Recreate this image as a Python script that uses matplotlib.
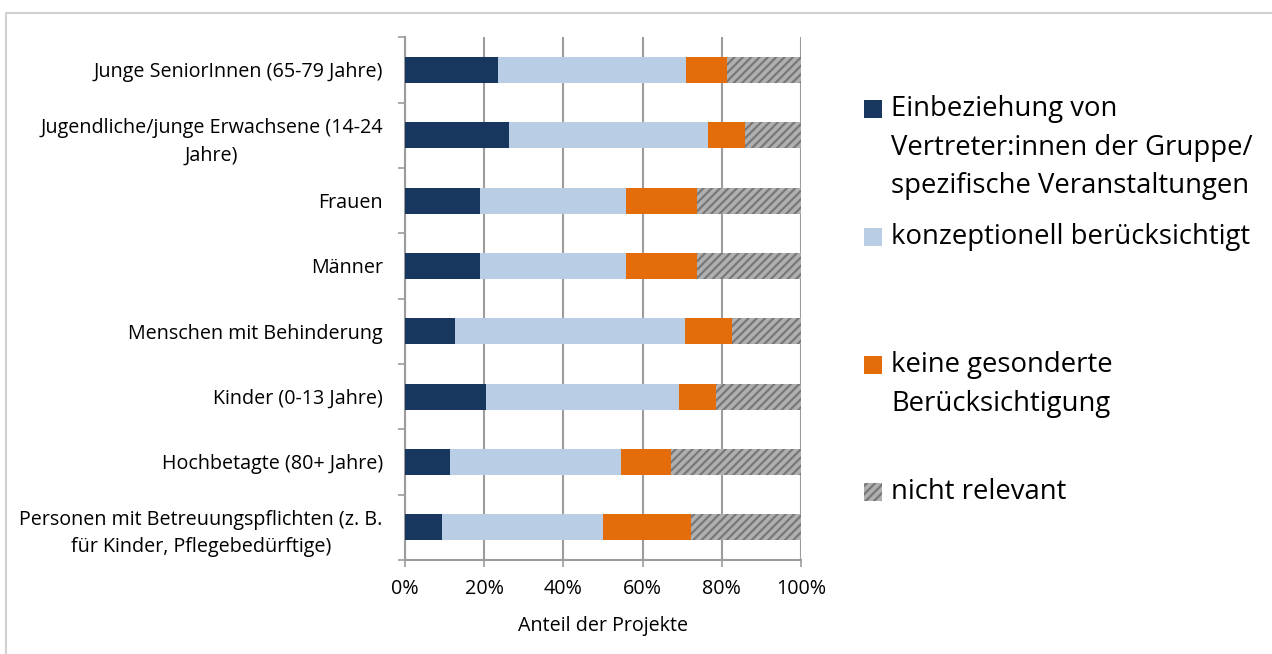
import matplotlib
matplotlib.use("Agg")
import matplotlib.pyplot as plt
from matplotlib.patches import Rectangle
from matplotlib.lines import Line2D
import numpy as np

plt.rcParams['font.family'] = ['Open Sans', 'DejaVu Sans']
plt.rcParams['hatch.linewidth'] = 1.6

categories = [
    "Junge SeniorInnen (65-79 Jahre)",
    "Jugendliche/junge Erwachsene (14-24\nJahre)",
    "Frauen",
    "Männer",
    "Menschen mit Behinderung",
    "Kinder (0-13 Jahre)",
    "Hochbetagte (80+ Jahre)",
    "Personen mit Betreuungspflichten (z. B.\nfür Kinder, Pflegebedürftige)",
]
einbeziehung = [23.4, 26.2, 18.9, 18.9, 12.5, 20.5, 11.4, 9.3]
konzeptionell = [47.6, 50.2, 36.9, 36.9, 58.3, 48.7, 43.2, 40.7]
keine = [10.4, 9.5, 17.9, 17.9, 11.7, 9.4, 12.5, 22.1]
nicht_relevant = [18.6, 14.1, 26.3, 26.3, 17.5, 21.4, 32.9, 27.9]

series_labels = [
    "Einbeziehung von\nVertreter:innen der Gruppe/\nspezifische Veranstaltungen",
    "konzeptionell berücksichtigt",
    "keine gesonderte\nBerücksichtigung",
    "nicht relevant",
]
x_ticks = [0, 20, 40, 60, 80, 100]
x_tick_labels = ["0%", "20%", "40%", "60%", "80%", "100%"]
x_label = "Anteil der Projekte"

colors = ["#17375E", "#B9CDE5", "#E46C0A", "#B0B0B0"]
hatches = [None, None, None, "////"]
hatch_color = "#787878"

W, H = 1272, 654
fig = plt.figure(figsize=(W / 100, H / 100), dpi=100)
fig.patch.set_facecolor("white")

ax_left, ax_right, ax_top, ax_bottom = 405, 801, 37.3, 560
ax = fig.add_axes([ax_left / W, 1 - ax_bottom / H, (ax_right - ax_left) / W, (ax_bottom - ax_top) / H])

y = np.arange(len(categories))
series = [einbeziehung, konzeptionell, keine, nicht_relevant]
left = np.zeros(len(categories))
for vals, col, hat in zip(series, colors, hatches):
    vals = np.array(vals)
    if hat:
        ax.barh(y, vals, left=left, height=0.4, color=col, hatch=hat,
                edgecolor=hatch_color, linewidth=0, zorder=3)
    else:
        ax.barh(y, vals, left=left, height=0.4, color=col, linewidth=0, zorder=3)
    left += vals

ax.set_xlim(0, 100)
ax.set_ylim(len(categories) - 0.5, -0.5)

grid_col = "#9C9C9C"
fs = 14.2
ax.set_xticks(x_ticks)
ax.set_xticklabels(x_tick_labels, fontsize=fs)
ax.xaxis.grid(True, color=grid_col, linewidth=1.5, zorder=0)
ax.set_axisbelow(True)

ax.set_yticks(np.arange(len(categories) + 1) - 0.5)
ax.set_yticklabels([])
ax.set_yticks(y, minor=True)
ax.set_yticklabels(categories, minor=True, fontsize=fs, linespacing=1.5)
for t in ax.get_yticklabels(minor=True):
    t.set_multialignment("center")
ax.tick_params(axis="y", which="major", length=5, width=1.2, color=grid_col, direction="out")
ax.tick_params(axis="y", which="minor", length=0, pad=16)
ax.tick_params(axis="x", which="major", length=5, width=1.2, color=grid_col, direction="out", pad=9)

for s in ["top", "right"]:
    ax.spines[s].set_visible(False)
for s in ["left", "bottom"]:
    ax.spines[s].set_color(grid_col)
    ax.spines[s].set_linewidth(1.5)

ax.set_xlabel(x_label, fontsize=fs, labelpad=12)

# legend drawn manually
leg_y = [109, 237, 365, 492]
line_sp = 38.5
sq = 18
for lab, col, hat, yy in zip(series_labels, colors, hatches, leg_y):
    r = Rectangle(((864) / W, 1 - (yy + sq / 2) / H), sq / W, sq / H,
                  transform=fig.transFigure, facecolor=col,
                  hatch=hat, edgecolor=hatch_color if hat else "none", linewidth=0)
    fig.add_artist(r)
    for i, line in enumerate(lab.split("\n")):
        fig.text(891 / W, 1 - (yy + i * line_sp) / H, line, fontsize=19.8,
                 ha="left", va="center")

# outer frame
fig.add_artist(Line2D([6 / W, 6 / W, 1.0], [0.0, 1 - 13 / H, 1 - 13 / H],
                      transform=fig.transFigure, color="#D0D0D0", linewidth=1.5))

fig.savefig("out.png", dpi=100)
